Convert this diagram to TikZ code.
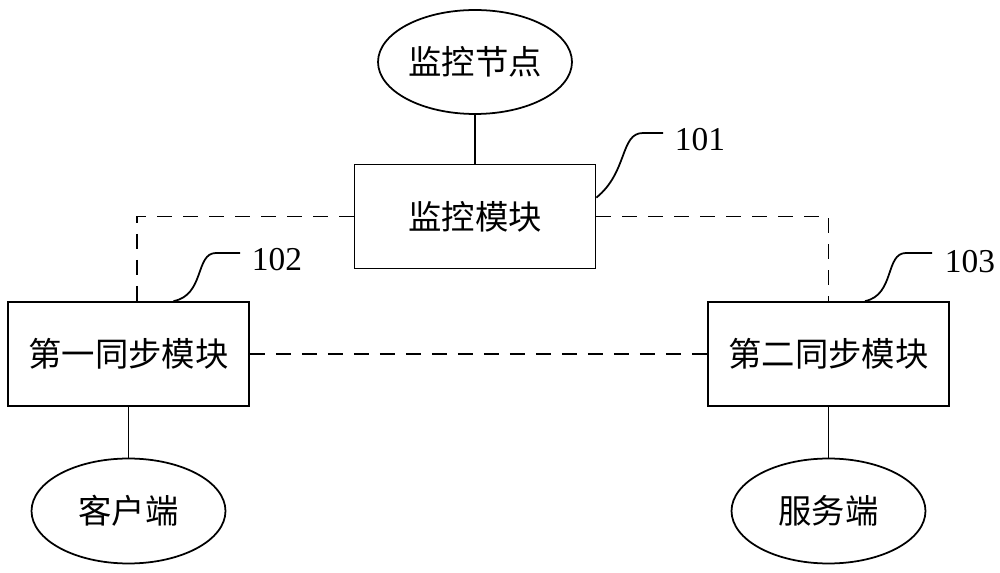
\documentclass[tikz,border=0pt]{standalone}
\usepackage{fontspec}
\setmainfont{Liberation Serif}
\newfontfamily\cjk{Noto Sans CJK SC}
\usetikzlibrary{shapes.geometric}
\begin{document}
\begin{tikzpicture}[x=0.02cm,y=-0.02cm,
  line width=1pt,
  boxnode/.style={draw,rectangle,minimum width=4.82cm,minimum height=2.08cm,inner sep=0pt,font=\cjk\fontsize{19}{21}\selectfont},
  ellnode/.style={draw,ellipse,minimum width=3.88cm,minimum height=2.08cm,inner sep=0pt,font=\cjk\fontsize{19}{21}\selectfont},
  numlabel/.style={font=\fontsize{19}{21}\selectfont,inner sep=0pt,anchor=west},
  dashline/.style={dash pattern=on 0.3cm off 0.22cm}]
\useasboundingbox (0,0) rectangle (1000,573);
\node[ellnode] (node) at (475,62) {监控节点};
\node[boxnode] (mon) at (475,216.5) {监控模块};
\node[boxnode] (s1) at (128.5,354) {第一同步模块};
\node[boxnode] (s2) at (828.5,354) {第二同步模块};
\node[ellnode,minimum height=2.1cm] (client) at (128.5,511) {客户端};
\node[ellnode,minimum height=2.1cm] (server) at (828.5,511) {服务端};
\node[numlabel] (l101) at (674,140) {101};
\node[numlabel] (l102) at (251,260) {102};
\node[numlabel] (l103) at (944,262) {103};
\draw (node) -- (mon);
\draw (s1) -- (client);
\draw (s2) -- (server);
\draw[dashline] (mon.west) -| ([xshift=0.17cm]s1.north);
\draw[dashline] (mon.east) -| (s2.north);
\draw[dashline] (s1.east) -- (s2.west);
\coordinate (c101) at (663,133);
\coordinate (c102) at (240,253);
\coordinate (c103) at (932,253);
\draw ([yshift=-0.68cm]mon.north east) .. controls (628,172) and (620,133) .. (643,133) -- (c101);
\draw ([xshift=0.9cm]s1.north) .. controls (205,295) and (195,253) .. (216,253) -- (c102);
\draw ([xshift=0.73cm]s2.north) .. controls (895,295) and (885,253) .. (906,253) -- (c103);
\end{tikzpicture}
\end{document}
